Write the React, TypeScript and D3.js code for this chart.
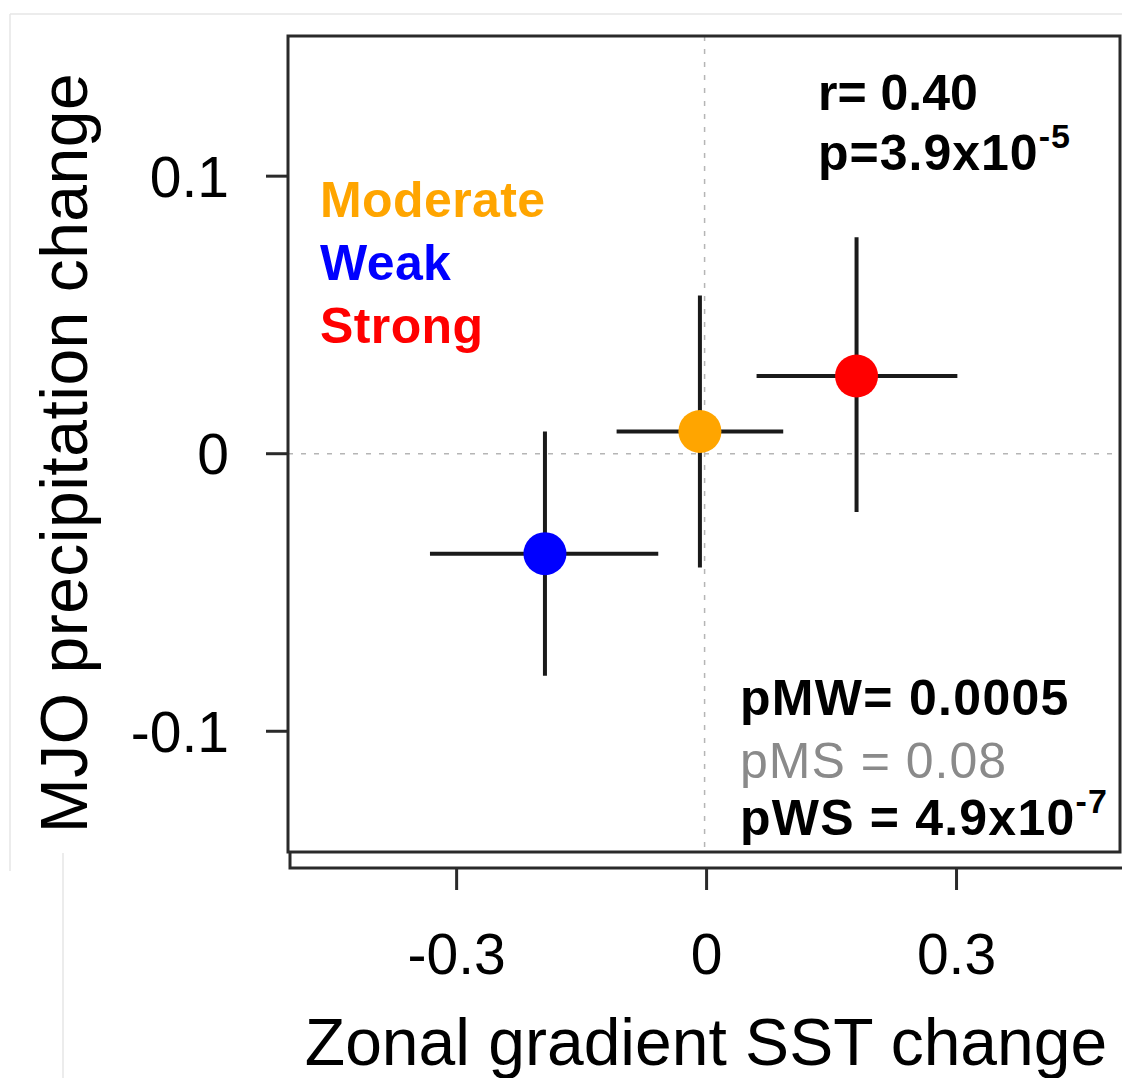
import React from "react";
import * as d3 from "d3";

const categories = ["Weak", "Moderate", "Strong"];
const pointColors = ["#0000FF", "#FFA500", "#FF0000"];
const xMean = [-0.194, -0.008, 0.180];
const xLow = [-0.332, -0.108, 0.060];
const xHigh = [-0.058, 0.092, 0.301];
const yMean = [-0.036, 0.008, 0.028];
const yLow = [-0.080, -0.041, -0.021];
const yHigh = [0.008, 0.057, 0.078];
const xTicks = [-0.3, 0, 0.3];
const yTicks = [-0.1, 0, 0.1];
const legendLabels = ["Moderate", "Weak", "Strong"];
const legendColors = ["#FFA500", "#0000FF", "#FF0000"];
const statLines = ["pMW= 0.0005", "pMS = 0.08", "pWS = 4.9x10"];

const FONT = "'Liberation Sans', Arial, Helvetica, sans-serif";

export default function App() {
  const W = 1122;
  const H = 1078;
  const box = { left: 288, top: 36, right: 1120, bottom: 852 };
  const x = d3.scaleLinear().domain([-0.5, 0.495]).range([290, 1119]);
  const y = d3.scaleLinear().domain([-0.1435, 0.1505]).range([852, 36]);
  const fmt = (d: number) => (d === 0 ? "0" : String(d));
  const axisY = 868;

  return (
    <svg
      width={W}
      height={H}
      style={{ position: "absolute", left: 0, top: 0, background: "#fff" }}
      fontFamily={FONT}
    >
      <rect x={0} y={0} width={W} height={H} fill="#fff" />
      {/* faint crop frame lines */}
      <line x1={10} y1={14} x2={W} y2={14} stroke="#e6e6e6" strokeWidth={1.5} />
      <line x1={10} y1={14} x2={10} y2={871} stroke="#e6e6e6" strokeWidth={1.5} />
      <line x1={63} y1={853} x2={63} y2={H} stroke="#e6e6e6" strokeWidth={1.5} />

      {/* reference dashed lines */}
      <line
        x1={box.left}
        x2={box.right}
        y1={y(0)}
        y2={y(0)}
        stroke="#b5b5b5"
        strokeWidth={1.5}
        strokeDasharray="5 8"
      />
      <line
        x1={x(0) - 2}
        x2={x(0) - 2}
        y1={box.top}
        y2={box.bottom}
        stroke="#b5b5b5"
        strokeWidth={1.5}
        strokeDasharray="5 8"
      />

      {/* error bars */}
      {categories.map((c, i) => (
        <g key={"eb" + c} stroke="#1a1a1a" strokeWidth={4}>
          <line x1={x(xLow[i])} x2={x(xHigh[i])} y1={y(yMean[i])} y2={y(yMean[i])} />
          <line x1={x(xMean[i])} x2={x(xMean[i])} y1={y(yLow[i])} y2={y(yHigh[i])} />
        </g>
      ))}
      {categories.map((c, i) => (
        <circle key={"pt" + c} cx={x(xMean[i])} cy={y(yMean[i])} r={21.5} fill={pointColors[i]} />
      ))}

      {/* plot box */}
      <rect
        x={box.left}
        y={box.top}
        width={box.right - box.left}
        height={box.bottom - box.top}
        fill="none"
        stroke="#2a2a2a"
        strokeWidth={3}
      />

      {/* y axis ticks + labels */}
      {yTicks.map((t) => (
        <g key={"yt" + t}>
          <line x1={266} x2={box.left} y1={y(t)} y2={y(t)} stroke="#2a2a2a" strokeWidth={3} />
          <text
            x={229}
            y={y(t)}
            dy="0.36em"
            textAnchor="end"
            fontSize={57}
            fill="#000"
          >
            {fmt(t)}
          </text>
        </g>
      ))}

      {/* x axis */}
      <path
        d={`M${box.left + 2},${box.bottom} V${axisY} H${W}`}
        fill="none"
        stroke="#2a2a2a"
        strokeWidth={3}
      />
      {xTicks.map((t) => (
        <g key={"xt" + t}>
          <line x1={x(t)} x2={x(t)} y1={axisY} y2={axisY + 22} stroke="#2a2a2a" strokeWidth={3} />
          <text x={x(t)} y={974} textAnchor="middle" fontSize={57} fill="#000">
            {fmt(t)}
          </text>
        </g>
      ))}

      {/* axis titles */}
      <text x={706} y={1065} textAnchor="middle" fontSize={66} fill="#000">
        Zonal gradient SST change
      </text>
      <text
        transform={`translate(87,${453}) rotate(-90)`}
        textAnchor="middle"
        fontSize={66}
        fill="#000"
        letterSpacing={0.5}
      >
        MJO precipitation change
      </text>

      {/* legend */}
      {legendLabels.map((l, i) => (
        <text
          key={"lg" + l}
          x={320}
          y={217 + i * 63}
          fontSize={50}
          fontWeight="bold"
          fill={legendColors[i]}
          letterSpacing={0.4}
        >
          {l}
        </text>
      ))}

      {/* correlation */}
      <text x={818} y={110} fontSize={50} fontWeight="bold" fill="#000">
        r= 0.40
      </text>
      <text x={818} y={170} fontSize={50} fontWeight="bold" fill="#000" letterSpacing={1}>
        p=3.9x10
        <tspan fontSize={34} dy={-22}>-5</tspan>
      </text>

      {/* pairwise p-values */}
      <text x={740} y={715} fontSize={50} fontWeight="bold" fill="#000" letterSpacing={1.3}>
        {statLines[0]}
      </text>
      <text x={740} y={778} fontSize={50} fill="#8a8a8a" letterSpacing={1}>
        {statLines[1]}
      </text>
      <text x={740} y={835} fontSize={50} fontWeight="bold" fill="#000" letterSpacing={1.2}>
        {statLines[2]}
        <tspan fontSize={34} dy={-22}>-7</tspan>
      </text>
    </svg>
  );
}
